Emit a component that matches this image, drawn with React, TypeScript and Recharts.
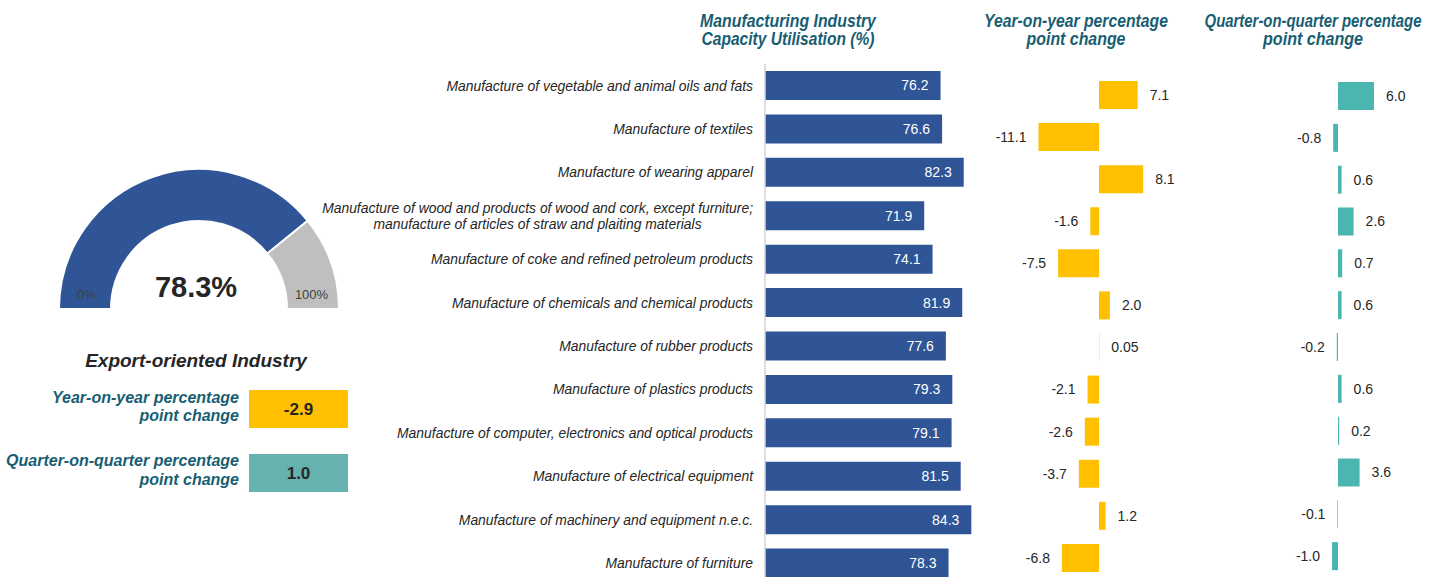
import React from "react";
import { BarChart, Bar, XAxis, YAxis, LabelList, PieChart, Pie, Cell } from "recharts";

const categories: string[] = [
  "Manufacture of vegetable and animal oils and fats",
  "Manufacture of textiles",
  "Manufacture of wearing apparel",
  "Manufacture of wood and products of wood and cork, except furniture;|manufacture of articles of straw and plaiting materials",
  "Manufacture of coke and refined petroleum products",
  "Manufacture of chemicals and chemical products",
  "Manufacture of rubber products",
  "Manufacture of plastics products",
  "Manufacture of computer, electronics and optical products",
  "Manufacture of electrical equipment",
  "Manufacture of machinery and equipment n.e.c.",
  "Manufacture of furniture",
];
const capacity: number[] = [76.2, 76.6, 82.3, 71.9, 74.1, 81.9, 77.6, 79.3, 79.1, 81.5, 84.3, 78.3];
const yoyChange: number[] = [7.1, -11.1, 8.1, -1.6, -7.5, 2.0, 0.05, -2.1, -2.6, -3.7, 1.2, -6.8];
const qoqChange: number[] = [6.0, -0.8, 0.6, 2.6, 0.7, 0.6, -0.2, 0.6, 0.2, 3.6, -0.1, -1.0];

const gaugeValue = 78.3;
const exportYoY = -2.9;
const exportQoQ = 1.0;

const headerCapacity = ["Manufacturing Industry", "Capacity Utilisation (%)"];
const headerYoY = ["Year-on-year percentage", "point change"];
const headerQoQ = ["Quarter-on-quarter percentage", "point change"];

const BLUE = "#2F5597";
const YELLOW = "#FFC000";
const TEAL = "#4BB5B0";
const TEAL_BOX = "#66B2AE";
const GREY = "#BFBFBF";
const HEAD = "#185E73";
const TXT = "#262626";
const FONT = "'Liberation Sans', Arial, sans-serif";

const rows = categories.map((name, i) => ({
  name,
  cap: capacity[i],
  yoy: yoyChange[i],
  qoq: qoqChange[i],
}));

const gaugeData = [
  { name: "value", v: gaugeValue },
  { name: "rest", v: 100 - gaugeValue },
];

let canvasCtx: CanvasRenderingContext2D | null = null;
const measure = (s: string, font: string) => {
  if (!canvasCtx) canvasCtx = document.createElement("canvas").getContext("2d");
  if (!canvasCtx) return s.length * 6.3;
  canvasCtx.font = font;
  return canvasCtx.measureText(s).width;
};

const TICK_FS = 13.9;

const CategoryTick = (props: any) => {
  const { x, y, payload } = props;
  const lines: string[] = String(payload.value).split("|");
  const right = x - 4;
  const font = `italic ${TICK_FS}px 'Liberation Sans', Arial, sans-serif`;
  if (lines.length === 1) {
    return (
      <text x={right} y={y} dy="0.35em" textAnchor="end" fontSize={TICK_FS} fontStyle="italic" fill={TXT} fontFamily={FONT}>
        {lines[0]}
      </text>
    );
  }
  const maxW = Math.max(...lines.map((l) => measure(l, font)));
  const cx = right - maxW / 2;
  const spacing = 16.5;
  const start = y - ((lines.length - 1) * spacing) / 2;
  return (
    <text textAnchor="middle" fontSize={TICK_FS} fontStyle="italic" fill={TXT} fontFamily={FONT}>
      {lines.map((l, i) => (
        <tspan key={i} x={cx} y={start + i * spacing} dy="0.35em">
          {l}
        </tspan>
      ))}
    </text>
  );
};

const fmt = (v: number) => (Math.abs(v) < 0.1 && v !== 0 ? v.toFixed(2) : v.toFixed(1));

const SideLabel = (props: any) => {
  const vb = props.viewBox || props;
  const x = Number(vb.x ?? props.x);
  const y = Number(vb.y ?? props.y);
  const w = Number(vb.width ?? props.width);
  const h = Number(vb.height ?? props.height);
  const v = Number(props.value);
  const left = Math.min(x, x + w);
  const right = Math.max(x, x + w);
  const gap = 12;
  const pos = v >= 0;
  return (
    <text
      x={pos ? right + gap : left - gap}
      y={y + h / 2}
      dy="0.35em"
      textAnchor={pos ? "start" : "end"}
      fontSize={14}
      fill={TXT}
      fontFamily={FONT}
    >
      {fmt(v)}
    </text>
  );
};

const HEAD_FS = 18;
const Header = ({ cx, lines, lens }: { cx: number; lines: string[]; lens: number[] }) => (
  <>
    {lines.map((l, i) => {
      const natural = measure(l, `italic bold ${HEAD_FS}px 'Liberation Sans', Arial, sans-serif`);
      const sx = natural > 0 ? Math.min(1, lens[i] / natural) : 1;
      return (
        <text
          key={i}
          transform={`translate(${cx},${26.5 + i * 18.5}) scale(${sx},1)`}
          x={0}
          y={0}
          textAnchor="middle"
          fontSize={HEAD_FS}
          fontWeight="bold"
          fontStyle="italic"
          fill={HEAD}
          fontFamily={FONT}
        >
          {l}
        </text>
      );
    })}
  </>
);

export default function App() {
  return (
    <div
      style={{
        position: "absolute",
        left: 0,
        top: 0,
        width: 1454,
        height: 577,
        overflow: "hidden",
        background: "#fff",
        fontFamily: FONT,
      }}
    >
      {/* Gauge */}
      <div style={{ position: "absolute", left: 0, top: 0 }}>
        <PieChart width={400} height={330} margin={{ top: 0, right: 0, bottom: 0, left: 0 }}>
          <Pie
            data={gaugeData}
            dataKey="v"
            cx={199}
            cy={309}
            startAngle={180}
            endAngle={0}
            innerRadius={88}
            outerRadius={140}
            stroke="#fff"
            strokeWidth={2}
            isAnimationActive={false}
          >
            <Cell fill={BLUE} />
            <Cell fill={GREY} />
          </Pie>
        </PieChart>
      </div>

      {/* Capacity bars */}
      <div style={{ position: "absolute", left: 0, top: 0 }}>
        <BarChart
          width={1000}
          height={585}
          data={rows}
          layout="vertical"
          margin={{ top: 64, right: 7, bottom: 0, left: 0 }}
        >
          <XAxis type="number" domain={[30, 90]} hide />
          <YAxis
            type="category"
            dataKey="name"
            width={765}
            axisLine={{ stroke: "#D4D4D4", strokeWidth: 1.5 }}
            tickLine={false}
            tick={<CategoryTick />}
            interval={0}
          />
          <Bar dataKey="cap" fill={BLUE} barSize={29} isAnimationActive={false}>
            <LabelList
              dataKey="cap"
              position="insideRight"
              offset={12}
              fill="#fff"
              fontSize={14}
              fontFamily={FONT}
              formatter={(v: any) => Number(v).toFixed(1)}
            />
          </Bar>
        </BarChart>
      </div>

      {/* YoY bars */}
      <div style={{ position: "absolute", left: 990, top: 0 }}>
        <BarChart
          width={205}
          height={579}
          data={rows}
          layout="vertical"
          margin={{ top: 74, right: 30.6, bottom: 0, left: 0 }}
        >
          <XAxis type="number" domain={[-20, 12]} hide />
          <YAxis type="category" dataKey="name" hide width={0} />
          <Bar dataKey="yoy" fill={YELLOW} barSize={28} isAnimationActive={false}>
            <LabelList dataKey="yoy" content={<SideLabel />} />
          </Bar>
        </BarChart>
      </div>

      {/* QoQ bars */}
      <div style={{ position: "absolute", left: 1278.3, top: 0 }}>
        <BarChart
          width={150}
          height={577}
          data={rows}
          layout="vertical"
          margin={{ top: 75, right: 42, bottom: 0, left: 0 }}
        >
          <XAxis type="number" domain={[-10, 8]} hide />
          <YAxis type="category" dataKey="name" hide width={0} />
          <Bar dataKey="qoq" fill={TEAL} barSize={28} isAnimationActive={false}>
            <LabelList dataKey="qoq" content={<SideLabel />} />
          </Bar>
        </BarChart>
      </div>

      {/* Text overlay */}
      <svg
        width={1454}
        height={577}
        style={{ position: "absolute", left: 0, top: 0, pointerEvents: "none" }}
      >
        <Header cx={788} lines={headerCapacity} lens={[176, 173]} />
        <Header cx={1076} lines={headerYoY} lens={[184, 99]} />
        <Header cx={1313} lines={headerQoQ} lens={[217, 100]} />

        <text x={196} y={297} textAnchor="middle" fontSize={29} fontWeight="bold" fill={TXT} fontFamily={FONT}>
          {gaugeValue.toFixed(1)}%
        </text>
        <text x={86.5} y={299} textAnchor="middle" fontSize={13} fill="#404040" fontFamily={FONT}>
          0%
        </text>
        <text x={311.5} y={299} textAnchor="middle" fontSize={13} fill="#404040" fontFamily={FONT}>
          100%
        </text>

        <text x={196} y={366.5} textAnchor="middle" fontSize={19} fontWeight="bold" fontStyle="italic" fill={TXT} fontFamily={FONT}>
          Export-oriented Industry
        </text>

        <text textAnchor="end" fontSize={16} fontWeight="bold" fontStyle="italic" fill={HEAD} fontFamily={FONT}>
          <tspan x={239} y={403}>Year-on-year percentage</tspan>
          <tspan x={239} y={421}>point change</tspan>
        </text>
        <rect x={249} y={390} width={99} height={38} fill={YELLOW} />
        <text x={298.5} y={415} textAnchor="middle" fontSize={17} fontWeight="bold" fill={TXT} fontFamily={FONT}>
          {exportYoY.toFixed(1)}
        </text>

        <text textAnchor="end" fontSize={16} fontWeight="bold" fontStyle="italic" fill={HEAD} fontFamily={FONT}>
          <tspan x={239} y={466}>Quarter-on-quarter percentage</tspan>
          <tspan x={239} y={484.5}>point change</tspan>
        </text>
        <rect x={249} y={454} width={99} height={38} fill={TEAL_BOX} />
        <text x={298.5} y={479} textAnchor="middle" fontSize={17} fontWeight="bold" fill={TXT} fontFamily={FONT}>
          {exportQoQ.toFixed(1)}
        </text>
      </svg>
    </div>
  );
}
